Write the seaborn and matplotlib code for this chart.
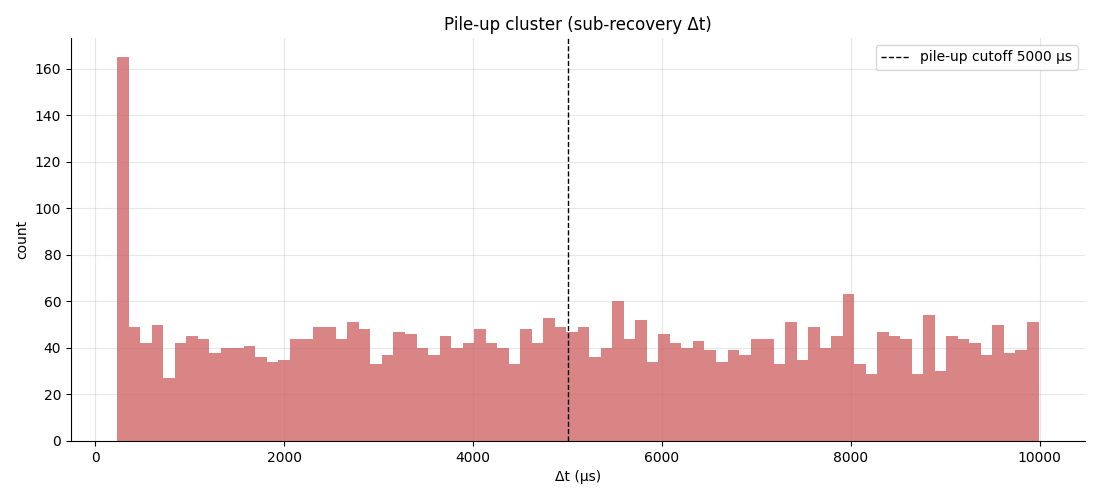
import numpy as np
import pandas as pd
import seaborn as sns
import matplotlib
matplotlib.use("Agg")
import matplotlib.pyplot as plt

# Histogram bin range (µs) and counts
bin_start = 230
bin_stop = 9986
n_bins = 80
counts = [165, 49, 42, 50, 27, 42, 45, 44, 38, 40,
          40, 41, 36, 34, 35, 44, 44, 49, 49, 44,
          51, 48, 33, 37, 47, 46, 40, 37, 45, 40,
          42, 48, 42, 40, 33, 48, 42, 53, 49, 47,
          49, 36, 40, 60, 44, 52, 34, 46, 42, 40,
          43, 39, 34, 39, 37, 44, 44, 33, 51, 35,
          49, 40, 45, 63, 33, 29, 47, 45, 44, 29,
          54, 30, 45, 44, 42, 37, 50, 38, 39, 51]
cutoff = 5000

edges = np.linspace(bin_start, bin_stop, n_bins + 1)
centers = (edges[:-1] + edges[1:]) / 2
df = pd.DataFrame({"dt": centers, "count": counts})

fig, ax = plt.subplots(figsize=(11, 5), dpi=100)
sns.histplot(data=df, x="dt", weights="count", bins=n_bins,
             binrange=(bin_start, bin_stop), color="indianred",
             alpha=0.75, linewidth=0, ax=ax)
ax.axvline(cutoff, color="black", linestyle="--", linewidth=1,
           label="pile-up cutoff 5000 µs")
ax.grid(True, alpha=0.3)
ax.set_axisbelow(True)
ax.set_title("Pile-up cluster (sub-recovery Δt)", fontsize=12)
ax.set_xlabel("Δt (µs)")
ax.set_ylabel("count")
ax.legend(loc="upper right")
sns.despine(ax=ax)
fig.subplots_adjust(left=0.0645, right=0.986, top=0.924, bottom=0.118)
fig.savefig("out.png", dpi=100)
